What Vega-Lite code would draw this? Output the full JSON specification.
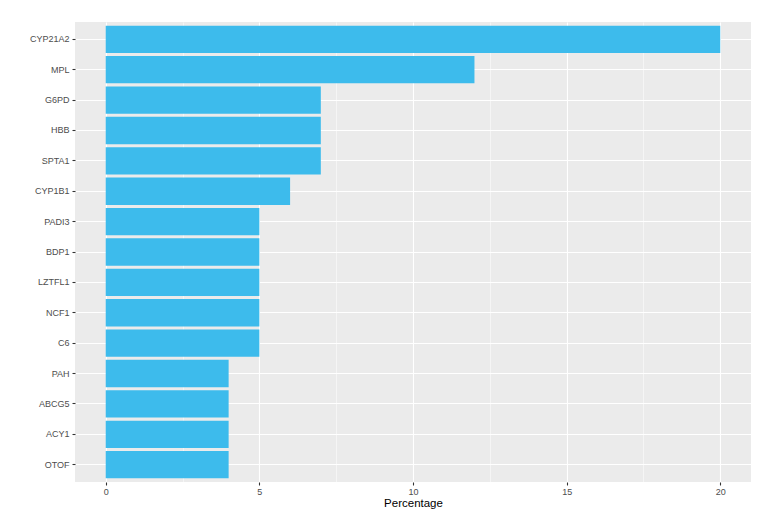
{
  "$schema": "https://vega.github.io/schema/vega-lite/v6.json",
  "width": 676,
  "height": 460,
  "autosize": {"type": "none"},
  "padding": {"left": 75, "top": 22, "right": 31, "bottom": 49},
  "background": "white",
  "config": {
    "view": {"fill": "#EBEBEB", "stroke": null},
    "font": "Liberation Sans"
  },
  "data": {
    "values": [
      {"gene": "CYP21A2", "pct": 20},
      {"gene": "MPL", "pct": 12},
      {"gene": "G6PD", "pct": 7},
      {"gene": "HBB", "pct": 7},
      {"gene": "SPTA1", "pct": 7},
      {"gene": "CYP1B1", "pct": 6},
      {"gene": "PADI3", "pct": 5},
      {"gene": "BDP1", "pct": 5},
      {"gene": "LZTFL1", "pct": 5},
      {"gene": "NCF1", "pct": 5},
      {"gene": "C6", "pct": 5},
      {"gene": "PAH", "pct": 4},
      {"gene": "ABCG5", "pct": 4},
      {"gene": "ACY1", "pct": 4},
      {"gene": "OTOF", "pct": 4}
    ]
  },
  "mark": {"type": "bar", "color": "#3DBBEC"},
  "encoding": {
    "y": {
      "field": "gene",
      "type": "nominal",
      "sort": null,
      "scale": {"paddingInner": 0.1, "paddingOuter": 0.12},
      "axis": {
        "title": null,
        "grid": true,
        "bandPosition": 0.5,
        "gridColor": "white",
        "gridWidth": 1.1,
        "domain": false,
        "tickColor": "#333333",
        "tickSize": 3,
        "tickWidth": 1.1,
        "labelPadding": 3,
        "labelFontSize": 9,
        "labelColor": "#4D4D4D"
      }
    },
    "x": {
      "field": "pct",
      "type": "quantitative",
      "scale": {"domain": [-1, 21], "nice": false, "zero": false},
      "axis": {
        "title": "Percentage",
        "titleFontSize": 11.5,
        "titleFontWeight": "normal",
        "titleColor": "black",
        "titlePadding": 1,
        "values": [0, 2.5, 5, 7.5, 10, 12.5, 15, 17.5, 20],
        "labelExpr": "datum.value % 5 === 0 ? datum.label : ''",
        "grid": true,
        "gridColor": "white",
        "gridWidth": {"condition": {"test": "datum.value % 5 === 0", "value": 1.1}, "value": 0.5},
        "domain": false,
        "tickColor": "#333333",
        "tickSize": 3,
        "tickWidth": 1.1,
        "tickOpacity": {"condition": {"test": "datum.value % 5 === 0", "value": 1}, "value": 0},
        "labelPadding": 2,
        "labelFontSize": 9,
        "labelColor": "#4D4D4D"
      }
    }
  }
}
